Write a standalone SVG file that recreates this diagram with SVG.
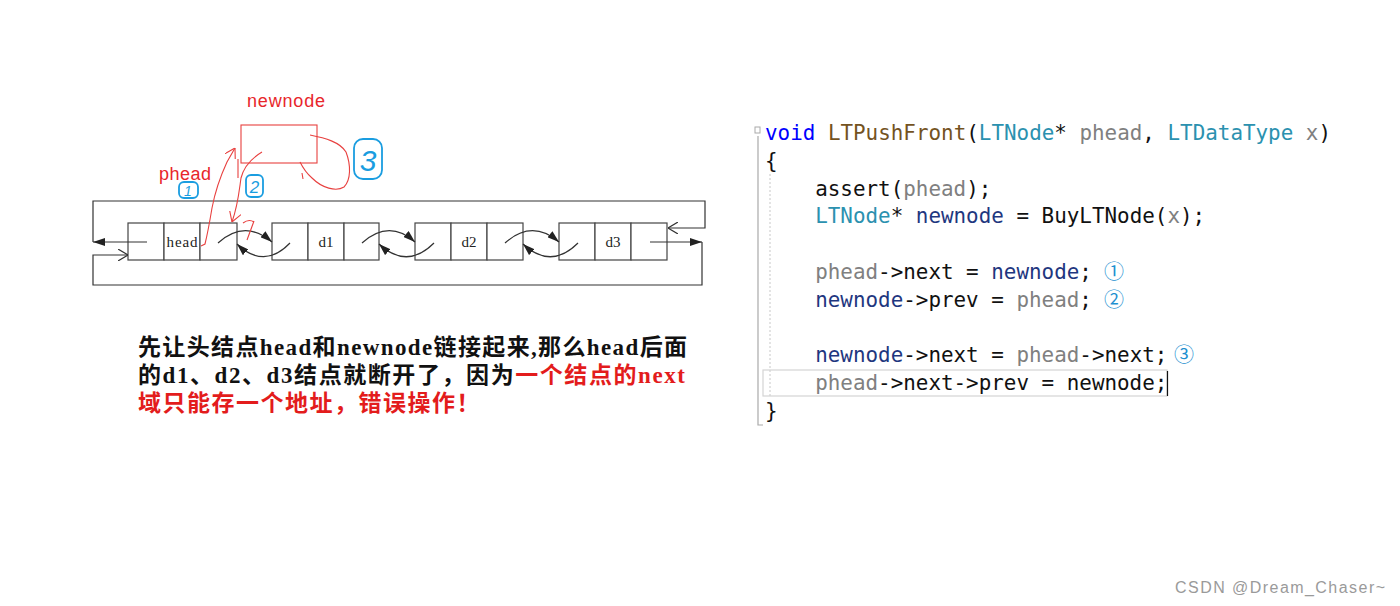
<svg xmlns="http://www.w3.org/2000/svg" width="1400" height="606" viewBox="0 0 1400 606">
<style>
.ln{fill:none;stroke:#333;stroke-width:1.2}
.cell{fill:#fff;stroke:#444;stroke-width:1.2}
.nt{font-family:"Liberation Serif",serif;font-size:15px;fill:#222;text-anchor:middle}
.red{fill:none;stroke:#e8403f;stroke-width:1.1}
.blue{fill:none;stroke:#1a9de0;stroke-width:1.8}
.bt{font-family:"Liberation Sans",sans-serif;fill:#1a9de0;text-anchor:middle;font-style:italic}
.cn{font-family:"Liberation Serif","Noto Sans CJK SC",serif;font-size:23px;font-weight:bold;fill:#111}
.r{fill:#e31c1c}
.code{font-family:"DejaVu Sans Mono","Liberation Mono",monospace;font-size:20.9px;fill:#111}
.kw{fill:#0000ff}.fn{fill:#74531f}.ty{fill:#2b91af}.pm{fill:#808080}.lv{fill:#1f377f}
.cir{font-family:"Noto Sans CJK SC",sans-serif;font-size:20px;fill:#1e90d0}
</style>
<defs>
<marker id="fa" viewBox="0 0 12 8" refX="12" refY="4" markerWidth="12" markerHeight="8" markerUnits="userSpaceOnUse" orient="auto"><path d="M0,0 L12,4 L0,8 z" fill="#222"/></marker>
<marker id="oa" viewBox="0 0 10 12" refX="10" refY="6" markerWidth="10" markerHeight="12" markerUnits="userSpaceOnUse" orient="auto"><path d="M0,0 L10,6 L0,12" fill="none" stroke="#333" stroke-width="1.2"/></marker>
<marker id="ra" viewBox="0 0 10 12" refX="10" refY="6" markerWidth="10" markerHeight="12" markerUnits="userSpaceOnUse" orient="auto"><path d="M0,0 L10,6 L0,12" fill="none" stroke="#e8403f" stroke-width="1.1"/></marker>
</defs>
<rect width="1400" height="606" fill="#fff"/>

<!-- list nodes -->
<g id="node-head">
<rect class="cell" x="128" y="223" width="36" height="37"/><rect class="cell" x="164" y="223" width="36" height="37"/><rect class="cell" x="200" y="223" width="37" height="37"/>
<text class="nt" x="182" y="247" textLength="31">head</text>
</g>
<g id="node-d1">
<rect class="cell" x="272" y="223" width="36" height="37"/><rect class="cell" x="308" y="223" width="36" height="37"/><rect class="cell" x="344" y="223" width="35" height="37"/>
<text class="nt" x="326" y="247">d1</text>
</g>
<g id="node-d2">
<rect class="cell" x="415" y="223" width="36" height="37"/><rect class="cell" x="451" y="223" width="36" height="37"/><rect class="cell" x="487" y="223" width="36" height="37"/>
<text class="nt" x="469" y="247">d2</text>
</g>
<g id="node-d3">
<rect class="cell" x="559" y="223" width="36" height="37"/><rect class="cell" x="595" y="223" width="36" height="37"/><rect class="cell" x="631" y="223" width="36" height="37"/>
<text class="nt" x="613" y="247">d3</text>
</g>
<g id="node-newnode">
<rect x="241" y="125" width="76" height="38" fill="none" stroke="#e8403f" stroke-width="1.1"/>
<text x="286" y="107" font-family="Liberation Sans,sans-serif" font-size="18" fill="#e8262b" text-anchor="middle" textLength="78">newnode</text>
</g>

<g id="connectors">
<!-- frame -->
<path class="ln" d="M93,242 L93,201 L705,201 L705,228 L668,228" marker-end="url(#oa)"/>
<path class="ln" d="M147,242 L93,242" marker-end="url(#fa)"/>
<path class="ln" d="M650,242 L702,242" marker-end="url(#fa)"/>
<path class="ln" d="M702,242 L702,285 L93,285 L93,255 L128,255" marker-end="url(#oa)"/>
<!-- links -->
<path class="ln" d="M218,243 Q245,219 272,242" marker-end="url(#fa)"/>
<path class="ln" d="M290,243 Q264,270 237,244" marker-end="url(#fa)"/>
<path class="ln" d="M362,243 Q389,219 415,242" marker-end="url(#fa)"/>
<path class="ln" d="M434,243 Q407,270 379,244" marker-end="url(#fa)"/>
<path class="ln" d="M505,243 Q532,219 559,242" marker-end="url(#fa)"/>
<path class="ln" d="M578,243 Q551,270 523,244" marker-end="url(#fa)"/>
<!-- red handwriting -->
<path class="red" d="M201,246 L205,244 C208,232 210,220 212,208 C215,192 221,175 227,162 L235,148" marker-end="url(#ra)"/>
<path class="red" d="M238,159 L238,178"/>
<path class="red" d="M262,152 C252,158 244,166 241,178 C239,192 238,205 232,222" marker-end="url(#ra)"/>
<path class="red" d="M243,223 C247,220 251,220 254,222 M254,221 L247,240"/>
<path class="red" d="M310,135 C325,138 340,142 346,152 C351,165 351,180 344,187 C336,192 322,188 312,178 C305,172 302,166 300,162 M302,173 L303,179"/>
</g>

<!-- labels -->
<text x="185" y="180" font-family="Liberation Sans,sans-serif" font-size="18" fill="#e8262b" text-anchor="middle" textLength="52">phead</text>
<g id="mark1"><rect class="blue" x="179" y="182" width="19" height="16" rx="5"/><text class="bt" x="188" y="196" font-size="14">1</text></g>
<g id="mark2"><rect class="blue" x="246" y="175" width="17" height="22" rx="5"/><text class="bt" x="254.5" y="193" font-size="17">2</text></g>
<g id="mark3"><rect class="blue" x="354" y="139" width="28" height="40" rx="9"/><text class="bt" x="368" y="171" font-size="30">3</text></g>

<!-- explanation text -->
<text class="cn" x="138" y="355" textLength="549" lengthAdjust="spacing">先让头结点head和newnode链接起来,那么head后面</text>
<text class="cn" x="138" y="383" textLength="547" lengthAdjust="spacing">的d1、d2、d3结点就断开了，因为<tspan class="r">一个结点的next</tspan></text>
<text class="cn r" x="138" y="411" letter-spacing="1.5">域只能存一个地址，错误操作！</text>

<!-- code -->
<g id="code">
<rect x="755" y="127" width="5" height="6" fill="none" stroke="#aaa" stroke-width="1"/>
<path d="M758,136 L758,425 L763,425" fill="none" stroke="#aaa" stroke-width="1.2"/>
<path d="M770,174 L770,398" fill="none" stroke="#c8c8c8" stroke-width="1" stroke-dasharray="2,2"/>
<rect x="763" y="370" width="404" height="26" fill="none" stroke="#d4d4d4" stroke-width="1.2"/>
<path d="M1167.5,371 L1167.5,396" stroke="#111" stroke-width="1.2"/>
<text class="code" x="765" y="140" xml:space="preserve"><tspan class="kw">void</tspan> <tspan class="fn">LTPushFront</tspan>(<tspan class="ty">LTNode</tspan>* <tspan class="pm">phead</tspan>, <tspan class="ty">LTDataType</tspan> <tspan class="pm">x</tspan>)</text>
<text class="code" x="765" y="167.8">{</text>
<text class="code" x="815.2" y="195.6">assert(<tspan class="pm">phead</tspan>);</text>
<text class="code" x="815.2" y="223.4" xml:space="preserve"><tspan class="ty">LTNode</tspan>* <tspan class="lv">newnode</tspan> = BuyLTNode(<tspan class="pm">x</tspan>);</text>
<text class="code" x="815.2" y="279" xml:space="preserve"><tspan class="pm">phead</tspan>-&gt;next = <tspan class="lv">newnode</tspan>;</text>
<text class="cir" x="1104" y="279">①</text>
<text class="code" x="815.2" y="306.8" xml:space="preserve"><tspan class="lv">newnode</tspan>-&gt;prev = <tspan class="pm">phead</tspan>;</text>
<text class="cir" x="1104" y="306.8">②</text>
<text class="code" x="815.2" y="362.4" xml:space="preserve"><tspan class="lv">newnode</tspan>-&gt;next = <tspan class="pm">phead</tspan>-&gt;next;</text>
<text class="cir" x="1174" y="362.4">③</text>
<text class="code" x="815.2" y="390" xml:space="preserve"><tspan class="pm">phead</tspan>-&gt;next-&gt;prev = newnode;</text>
<text class="code" x="765" y="417.8">}</text>
</g>

<text x="1175" y="593" font-family="Liberation Sans,sans-serif" font-size="16" fill="#9a9a9a" textLength="210">CSDN @Dream_Chaser~</text>
</svg>
